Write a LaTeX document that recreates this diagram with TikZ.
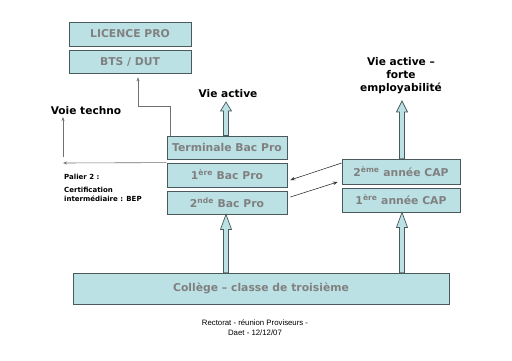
\documentclass[tikz,border=0pt]{standalone}
\usepackage{fontspec}
\setmainfont{DejaVu Sans}
\newfontfamily\footfont{Liberation Sans}
\usetikzlibrary{calc,arrows.meta}
\definecolor{boxc}{HTML}{BCE1E4}
\definecolor{bordc}{HTML}{4A5A5C}
\definecolor{txtc}{HTML}{808080}
\definecolor{linec}{HTML}{707070}
\tikzset{
  box/.style={draw=bordc, line width=0.8pt, fill=boxc, inner sep=0pt,
    font=\bfseries\fontsize{10.8}{12}\selectfont, text=txtc},
  lbl/.style={font=\bfseries\fontsize{10.6}{13}\selectfont, text=black, inner sep=0pt, align=center},
  small/.style={font=\fontsize{7}{9}\selectfont, text=black, inner sep=0pt, align=left, anchor=west},
  thin/.style={draw=linec, line width=0.6pt, -{Stealth[length=4pt,width=3pt]}},
  cross/.style={draw=black!80, line width=0.6pt, -{Stealth[length=4.5pt,width=3.5pt]}},
  blk/.style={draw=bordc, line width=0.7pt, fill=boxc}
}
% block arrow: #1 start, #2 tip, #3 head length
\newcommand\blockarr[3]{%
  \path let \p1=#1, \p2=#2 in [blk]
    (\x1-2.5pt,\y1) -- (\x1-2.5pt,\y2-#3) -- (\x1-5.5pt,\y2-#3) -- (\x1,\y2)
    -- (\x1+5.5pt,\y2-#3) -- (\x1+2.5pt,\y2-#3) -- (\x1+2.5pt,\y1) -- cycle;}
\begin{document}
\begin{tikzpicture}[x=1pt,y=-1pt]
\useasboundingbox (0,0) rectangle (512,361);
% boxes
\node[box, minimum width=122pt, minimum height=24pt] (lic) at (130,34) {LICENCE PRO};
\node[box, minimum width=122pt, minimum height=23pt] (bts) at (130,61.5) {BTS / DUT};
\node[box, minimum width=120pt, minimum height=23pt] (term) at (227,147.5) {Terminale Bac Pro};
\node[box, minimum width=120pt, minimum height=24pt] (bac1) at (227,175) {1\textsuperscript{ère} Bac Pro};
\node[box, minimum width=120pt, minimum height=23pt] (bac2) at (227,202.5) {2\textsuperscript{nde} Bac Pro};
\node[box, minimum width=118pt, minimum height=25pt] (cap2) at (401,171.5) {2\textsuperscript{ème} année CAP};
\node[box, minimum width=118pt, minimum height=24pt] (cap1) at (401,200) {1\textsuperscript{ère} année CAP};
\node[box, minimum width=376pt, minimum height=31pt] (col) at (261,288.5) {Collège – classe de troisième};
% labels
\node[lbl] (va) at (228,94) {Vie active};
\node[lbl] (vf) at (401,76) {Vie active –\\forte\\employabilité};
\node[lbl] (vt) at (86,111) {Voie techno};
\node[small] (pal) at (64,177) {\bfseries Palier 2 :};
\node[small] (cert) at (64,194.5) {\bfseries Certification\\\bfseries intermédiaire : BEP};
\node[font=\footfont\fontsize{7.8}{10}\selectfont, align=center, inner sep=0pt] (foot) at (255,328) {Rectorat - réunion Proviseurs -\\Daet - 12/12/07};
% coordinates
\coordinate (vatip) at (226,102);
\coordinate (vftip) at (402,101);
\coordinate (vtt) at (63,117);
\coordinate (hl) at (63,163);
\coordinate (c1) at (170,106);
\coordinate (c2) at (138,106);
% block arrows
\blockarr{(term.north -| vatip)}{(vatip)}{9pt}
\blockarr{(cap2.north -| vftip)}{(vftip)}{11pt}
\blockarr{(col.north -| vatip)}{(bac2.south -| vatip)}{15pt}
\blockarr{(col.north -| vftip)}{(cap1.south -| vftip)}{15pt}
% thin connectors
\draw[thin] (term.north -| c1) -- (c1) -- (c2) -- ($(bts.south -| c2)+(0,4)$);
\draw[thin] (bac1.north west) -- (hl);
\draw[thin] ($(hl)+(0,-6)$) -- (vtt);
% crossing arrows
\draw[cross] ($(cap2.west)+(0,-8.5)$) -- ($(bac1.east)+(3,5)$);
\draw[cross] ($(bac2.east)+(3,-5.5)$) -- ($(cap2.west)+(-4,10.5)$);
\end{tikzpicture}
\end{document}
